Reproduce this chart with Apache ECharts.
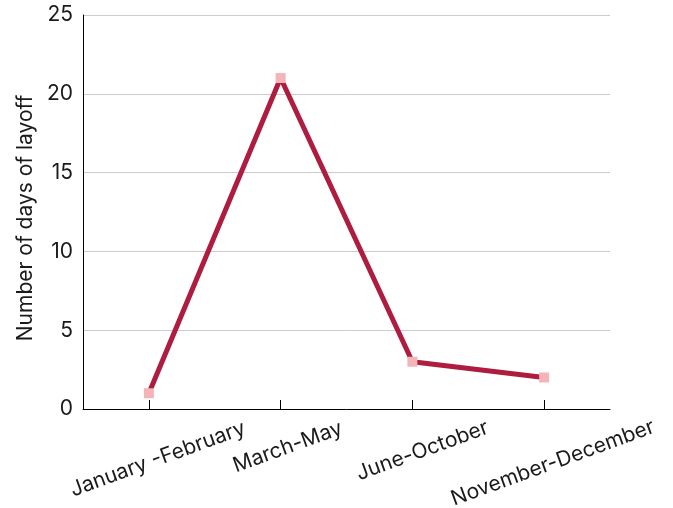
<!DOCTYPE html>
<html><head><meta charset="utf-8">
<script src="https://cdn.jsdelivr.net/npm/echarts@6/dist/echarts.min.js"></script>
<style>html,body{margin:0;padding:0;background:#fff}#c{width:673px;height:508px}</style>
</head><body><div id="c"></div>
<script>
const categories = ['January -February', 'March-May', 'June-October', 'November-December'];
const layoffDays = [1, 21, 3, 2];
const yTicks = { min: 0, max: 25, interval: 5 };
const labelPads = [[44, 0, 0, 3], [20, 0, 0, 8], [29, 0, 0, 11], [51, 0, 0, 0]];

const labelFont = { fontFamily: 'Inter', fontSize: 21, color: '#1a1a1a' };
const rich = {};
labelPads.forEach((p, i) => { rich['p' + i] = Object.assign({ padding: p }, labelFont); });

const chart = echarts.init(document.getElementById('c'), null, { renderer: 'canvas' });
chart.setOption({
  animation: false,
  backgroundColor: '#fff',
  grid: { left: 83, right: 63, top: 15, bottom: 99, containLabel: false, outerBoundsMode: 'none' },
  xAxis: {
    type: 'category',
    boundaryGap: true,
    data: categories.map(c => ({ value: c, textStyle: { align: 'center', verticalAlign: 'middle' } })),
    axisLine: { lineStyle: { color: '#000', width: 1 } },
    axisTick: { show: true, inside: true, length: 9, alignWithLabel: true, lineStyle: { color: '#000' } },
    axisLabel: Object.assign({
      rotate: 20, margin: 30, align: 'center', verticalAlign: 'middle',
      interval: 0, hideOverlap: false,
      formatter: (v, i) => '{p' + i + '|' + v + '}',
      rich: rich
    }, labelFont),
    splitLine: { show: false }
  },
  yAxis: {
    type: 'value', min: yTicks.min, max: yTicks.max, interval: yTicks.interval,
    name: 'Number of days of layoff', nameLocation: 'middle', nameGap: 46, nameRotate: 90,
    nameTextStyle: Object.assign({ padding: [0, 12, 0, 0] }, labelFont),
    axisLine: { show: true, lineStyle: { color: '#000', width: 1 } },
    axisTick: { show: false },
    axisLabel: Object.assign({ margin: 10 }, labelFont),
    splitLine: { show: true, lineStyle: { color: '#cccccc', width: 1 } }
  },
  series: [{
    type: 'line',
    data: layoffDays,
    lineStyle: { color: '#AE1C3F', width: 5 },
    itemStyle: { color: '#F4B4B8' },
    symbol: 'rect', symbolSize: 10, showSymbol: true,
    z: 3
  }]
});
</script></body></html>
